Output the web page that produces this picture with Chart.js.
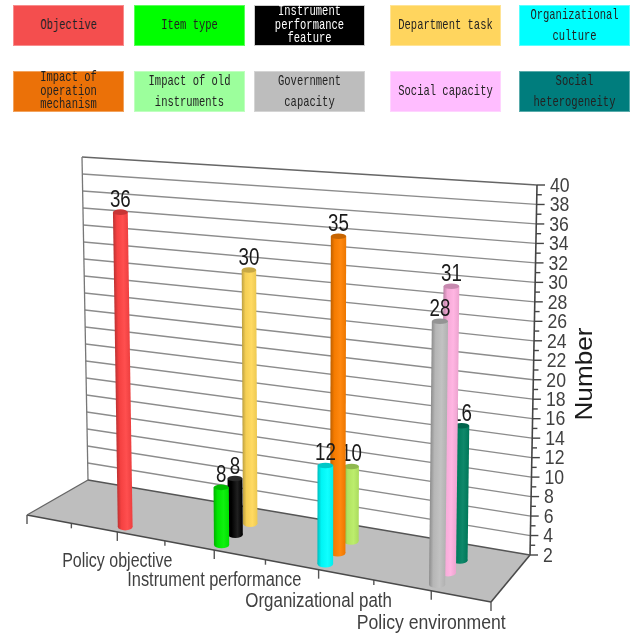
<!DOCTYPE html>
<html>
<head>
<meta charset="utf-8">
<title>Number by policy category</title>
<script src="https://cdn.jsdelivr.net/npm/chart.js@4"></script>
<style>
  html, body { margin: 0; background: #fff; overflow: hidden; }
  #wrap { position: relative; width: 630px; height: 636px; }
  #chart { display: block; position: absolute; left: 0; top: 0; }
  .key { position: absolute; box-sizing: border-box; width: 111px; height: 41px; border: 1px solid;
         display: flex; align-items: center; justify-content: center; overflow: visible; }
  .key div { font: 10.5px "Liberation Mono", monospace; text-align: center; white-space: pre; transform: scaleY(1.35); }
</style>
</head>
<body>
<div id="wrap">
  <canvas id="chart" width="630" height="636"></canvas>
</div>
<script>
/* ================== DATA ================== */
const categories = ["Policy objective", "Instrument performance", "Organizational path", "Policy environment"];
const categorySqueeze = [0.78, 0.8, 0.825, 0.86];
const seriesNames = [
  "Objective", "Item type", "Instrument\nperformance\nfeature", "Department task",
  "Organizational\nculture", "Impact of\noperation\nmechanism", "Impact of old\ninstruments",
  "Government\ncapacity", "Social capacity", "Social\nheterogeneity"
];
const values = [36, 8, 8, 30, 12, 35, 10, 28, 31, 16];
const seriesCategory = [1, 2, 2, 2, 3, 3, 3, 4, 4, 4];
const seriesRow = [0, 0, 1, 2, 0, 1, 2, 0, 1, 2];
const barColors = ["#FF4444", "#00F000", "#000000", "#FFD858", "#00FFFF", "#FF8000", "#B8EC64", "#BEBEBE", "#FFB0E0", "#008060"];
const keyColors = ["#F44E4E", "#00FF00", "#000000", "#FFD55E", "#00FFFF", "#EB7108", "#9CFF9C", "#BDBDBD", "#FFBDFF", "#007D7D"];
const yTicks = [2, 4, 6, 8, 10, 12, 14, 16, 18, 20, 22, 24, 26, 28, 30, 32, 34, 36, 38, 40];
const yMinorTicks = [3, 5, 7, 9, 11, 13, 15, 17, 19, 21, 23, 25, 27, 29, 31, 33, 35, 37, 39];
const xTicks = [0, 1, 2, 3, 4, 4.5];
const xMinorTicks = [0.5, 1.5, 2.5, 3.5];

/* ================== CAMERA ================== */
// floor corners as seen in the picture, front-left / front-right / back-right / back-left
const FL = [27, 515], FR = [491, 602], BR = [530, 555], BL = [88, 480];
const TL = [82, 157], TR = [537, 185];
const rowDepth = [0.13, 0.38, 0.66];
const X_SPAN = 4.5, Y_MIN = 2, Y_MAX = 40;

const den = (FR[0] - BR[0]) * (BL[1] - BR[1]) - (BL[0] - BR[0]) * (FR[1] - BR[1]);
const sx = FL[0] - FR[0] + BR[0] - BL[0], sy = FL[1] - FR[1] + BR[1] - BL[1];
const hg = (sx * (BL[1] - BR[1]) - (BL[0] - BR[0]) * sy) / den;
const hh = ((FR[0] - BR[0]) * sy - sx * (FR[1] - BR[1])) / den;

function floorPoint(cat, depth) {
  const u = cat / X_SPAN, w = hg * u + hh * depth + 1;
  return {
    x: ((FR[0] - FL[0] + hg * FR[0]) * u + (BL[0] - FL[0] + hh * BL[0]) * depth + FL[0]) / w,
    y: ((FR[1] - FL[1] + hg * FR[1]) * u + (BL[1] - FL[1] + hh * BL[1]) * depth + FL[1]) / w
  };
}

// pixels per value unit grow towards the right and towards the viewer
function unitHeight(cat, depth) {
  const back = 8.5 + 1.24 * cat / X_SPAN;
  return back * (1.068 - 0.103 * depth);
}

function barEnds(i) {
  const cat = seriesCategory[i], depth = rowDepth[seriesRow[i]];
  const base = floorPoint(cat, depth);
  const h = (values[i] - Y_MIN) * unitHeight(cat, depth);
  const lean = (base.x - 309) * 8.4e-5;
  return [base, { x: base.x + h * lean, y: base.y - h }];
}

function wallPoint(side, v) {
  const t = (v - Y_MIN) / (Y_MAX - Y_MIN);
  const a = side === 0 ? BL : BR, b = side === 0 ? TL : TR;
  return { x: a[0] + (b[0] - a[0]) * t, y: a[1] + (b[1] - a[1]) * t };
}

/* ================== HELPERS ================== */
function shade(hex, f) {
  const n = parseInt(hex.slice(1), 16);
  const ch = [n >> 16, (n >> 8) & 255, n & 255].map(c => {
    const v = f < 1 ? c * f : c + (255 - c) * (f - 1);
    return Math.round(v);
  });
  return `rgb(${ch[0]},${ch[1]},${ch[2]})`;
}

function barWidth(i) {
  return unitHeight(seriesCategory[i], rowDepth[seriesRow[i]]) * 1.6;
}

// shading across the cylinder, square to its slight lean
function barGradient(chart, i) {
  const [p, q] = barEnds(i);
  const sxx = chart.scales.x, syy = chart.scales.y;
  const ax = sxx.getPixelForValue(p.x), ay = syy.getPixelForValue(p.y);
  const bx = sxx.getPixelForValue(q.x), by = syy.getPixelForValue(q.y);
  const len = Math.hypot(bx - ax, by - ay), w = barWidth(i) / 2;
  const c = barColors[i];
  // scales have no size yet on the first option pass
  if (!Number.isFinite(len) || len === 0) return c;
  const nx = (by - ay) / len * w, ny = (ax - bx) / len * w;
  const g = chart.ctx.createLinearGradient(ax - nx, ay - ny, ax + nx, ay + ny);
  g.addColorStop(0, shade(c, 0.93));
  g.addColorStop(0.35, c === "#000000" ? "#202020" : shade(c, 1.06));
  g.addColorStop(0.75, shade(c, 0.96));
  g.addColorStop(1, shade(c, 0.74));
  return g;
}

// the reference type is a condensed sans, so squeeze the font sideways
function squeezedText(ctx, text, x, y, squeeze) {
  ctx.save();
  ctx.translate(x, y);
  ctx.scale(squeeze, 1);
  ctx.fillText(text, 0, 0);
  ctx.restore();
}

// borderDash keeps Chart.js off its fast path, which kinks thick near-vertical lines
function line(points, color, width, order) {
  return { data: points, borderColor: color, borderWidth: width, borderDash: [2000], order: order, showLine: true, pointRadius: 0, clip: false, fill: false };
}

/* ================== DATASETS ================== */
const datasets = [];

// floor
const floorShape = [{ x: FL[0], y: FL[1] }, { x: FR[0], y: FR[1] }, { x: BR[0], y: BR[1] }, { x: BL[0], y: BL[1] }, { x: FL[0], y: FL[1] }];
datasets.push({ ...line(floorShape, "rgba(0,0,0,0)", 0, 100), fill: "shape", backgroundColor: "#BEBEBE" });
datasets.push(line([floorShape[3], floorShape[0]], "#666", 1.4, 90));
datasets.push(line([floorShape[0], floorShape[1]], "#4a4a4a", 1.6, 90));
datasets.push(line([floorShape[1], floorShape[2]], "#4a4a4a", 1.6, 90));
datasets.push(line([floorShape[3], floorShape[2]], "#555", 1.4, 90));

// back wall
datasets.push(line([wallPoint(0, Y_MIN), wallPoint(0, Y_MAX)], "#777", 1.3, 90));
datasets.push(line([wallPoint(1, Y_MIN), wallPoint(1, Y_MAX)], "#444", 1.6, 90));
yTicks.forEach(v => {
  const r = wallPoint(1, v);
  if (v > Y_MIN) datasets.push(line([wallPoint(0, v), r], v === Y_MAX ? "#666" : "#8c8c8c", 1.3, 95));
  datasets.push(line([r, { x: r.x + 8, y: r.y }], "#444", 1.4, 90));
});
yMinorTicks.forEach(v => {
  const r = wallPoint(1, v);
  datasets.push(line([r, { x: r.x + 5, y: r.y }], "#444", 1.4, 90));
});

// ticks under the front edge
xTicks.forEach(c => {
  const p = floorPoint(c, 0);
  datasets.push(line([p, { x: p.x, y: p.y + 9 }], "#555", 1.4, 90));
});
xMinorTicks.forEach(c => {
  const p = floorPoint(c, 0);
  datasets.push(line([p, { x: p.x, y: p.y + 5 }], "#555", 1.4, 90));
});

// cylinders, back rows are painted first (higher order goes underneath)
values.forEach((v, i) => {
  const ds = line(barEnds(i), null, barWidth(i), 10 + seriesRow[i]);
  ds.barIndex = i;
  ds.borderCapStyle = "butt";
  ds.borderColor = ctx => barGradient(ctx.chart, i);
  datasets.push(ds);
});

/* ================== PLUGINS ================== */
const capsPlugin = {
  id: "caps",
  beforeDatasetDraw(chart, args) {
    const i = chart.data.datasets[args.index].barIndex;
    if (i === undefined) return;
    const [a] = args.meta.data;
    const ctx = chart.ctx;
    ctx.save();
    ctx.fillStyle = barGradient(chart, i);
    ctx.beginPath();
    ctx.ellipse(a.x, a.y, barWidth(i) / 2, 3.6, 0, 0, Math.PI * 2);
    ctx.fill();
    ctx.restore();
  },
  afterDatasetDraw(chart, args) {
    const i = chart.data.datasets[args.index].barIndex;
    if (i === undefined) return;
    const b = args.meta.data[1];
    const ctx = chart.ctx;
    ctx.save();
    ctx.fillStyle = barColors[i] === "#000000" ? "#2a2a2a" : shade(barColors[i], 0.78);
    ctx.beginPath();
    ctx.ellipse(b.x, b.y, barWidth(i) / 2, 2.8, 0, 0, Math.PI * 2);
    ctx.fill();
    ctx.fillStyle = "#1a1a1a";
    ctx.font = '24px "Liberation Sans", sans-serif';
    ctx.textAlign = "center";
    ctx.textBaseline = "alphabetic";
    squeezedText(ctx, String(values[i]), b.x, b.y - 5, 0.78);
    ctx.restore();
  }
};

const axisTextPlugin = {
  id: "axisText",
  afterDatasetsDraw(chart) {
    const ctx = chart.ctx;
    ctx.save();
    ctx.fillStyle = "#404040";
    ctx.textBaseline = "alphabetic";
    ctx.font = '20.5px "Liberation Sans", sans-serif';
    ctx.textAlign = "center";
    categories.forEach((c, k) => {
      const p = floorPoint(k + 1, 0);
      squeezedText(ctx, c, p.x, p.y + 35 + k, categorySqueeze[k]);
    });
    ctx.font = '21px "Liberation Sans", sans-serif';
    ctx.textAlign = "left";
    ctx.textBaseline = "middle";
    yTicks.forEach(v => {
      const r = wallPoint(1, v);
      squeezedText(ctx, String(v), r.x + 13, r.y + 1, 0.84);
    });
    ctx.fillStyle = "#1a1a1a";
    ctx.font = '24px "Liberation Sans", sans-serif';
    ctx.textAlign = "center";
    ctx.textBaseline = "alphabetic";
    ctx.translate(592, 374);
    ctx.rotate(-Math.PI / 2);
    squeezedText(ctx, "Number", 0, 0, 1.09);
    ctx.restore();
  }
};

/* ================== CHART ================== */
new Chart(document.getElementById("chart"), {
  type: "scatter",
  data: { datasets: datasets },
  plugins: [capsPlugin, axisTextPlugin],
  options: {
    responsive: false,
    animation: false,
    events: [],
    layout: { padding: 0 },
    plugins: { legend: { display: false }, tooltip: { enabled: false } },
    scales: {
      x: { type: "linear", display: false, min: 0, max: 630 },
      y: { type: "linear", display: false, min: 0, max: 636, reverse: true }
    }
  }
});

/* ================== KEY BOXES ================== */
const keyLeft = [13, 134, 254, 390, 519];
const keyTop = [5, 71];
const wrap = document.getElementById("wrap");
seriesNames.forEach((name, i) => {
  const box = document.createElement("div");
  box.className = "key";
  box.style.left = keyLeft[i % 5] + "px";
  box.style.top = keyTop[Math.floor(i / 5)] + "px";
  box.style.background = keyColors[i];
  box.style.borderColor = keyColors[i] === "#000000" ? "#ccc" : shade(keyColors[i], 1.35);
  const text = document.createElement("div");
  const lines = name.split("\n").length;
  text.textContent = name;
  text.style.lineHeight = (lines === 3 ? 9.8 : 14.5) + "px";
  text.style.color = keyColors[i] === "#000000" ? "#fff" : "#222";
  box.appendChild(text);
  wrap.appendChild(box);
});
</script>
</body>
</html>
